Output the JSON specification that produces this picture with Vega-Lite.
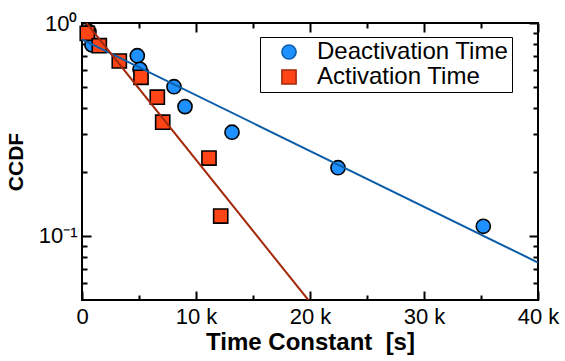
{
  "$schema": "https://vega.github.io/schema/vega-lite/v6.json",
  "width": 456,
  "height": 277,
  "autosize": "none",
  "padding": {"left": 82, "top": 23, "right": 27, "bottom": 61},
  "background": "white",
  "config": {
    "view": {"stroke": "black", "strokeWidth": 2},
    "font": "Liberation Sans",
    "axis": {
      "domain": false,
      "grid": false,
      "tickColor": "black",
      "tickWidth": 2,
      "labelColor": "black",
      "titleColor": "black",
      "labelFont": "Liberation Sans",
      "titleFont": "Liberation Sans"
    }
  },
  "datasets": {
    "pts": [
      {"series": "Deactivation Time", "t": 614, "ccdf": 0.91},
      {"series": "Deactivation Time", "t": 877, "ccdf": 0.789},
      {"series": "Deactivation Time", "t": 4851, "ccdf": 0.702},
      {"series": "Deactivation Time", "t": 5088, "ccdf": 0.606},
      {"series": "Deactivation Time", "t": 8070, "ccdf": 0.502},
      {"series": "Deactivation Time", "t": 9035, "ccdf": 0.405},
      {"series": "Deactivation Time", "t": 13158, "ccdf": 0.307},
      {"series": "Deactivation Time", "t": 22456, "ccdf": 0.209},
      {"series": "Deactivation Time", "t": 35202, "ccdf": 0.111},
      {"series": "Activation Time", "t": 465, "ccdf": 0.895},
      {"series": "Activation Time", "t": 1518, "ccdf": 0.782},
      {"series": "Activation Time", "t": 3272, "ccdf": 0.663},
      {"series": "Activation Time", "t": 5175, "ccdf": 0.556},
      {"series": "Activation Time", "t": 6605, "ccdf": 0.448},
      {"series": "Activation Time", "t": 7079, "ccdf": 0.342},
      {"series": "Activation Time", "t": 11140, "ccdf": 0.232},
      {"series": "Activation Time", "t": 12167, "ccdf": 0.124}
    ],
    "fit": [
      {"series": "Deactivation Time", "t": 0, "ccdf": 0.838},
      {"series": "Deactivation Time", "t": 40000, "ccdf": 0.075},
      {"series": "Activation Time", "t": 395, "ccdf": 1.0},
      {"series": "Activation Time", "t": 19851, "ccdf": 0.05}
    ]
  },
  "layer": [
    {
      "data": {"name": "pts"},
      "mark": {"type": "point", "filled": true, "stroke": "black", "strokeWidth": 1.6, "opacity": 1, "size": 200},
      "encoding": {
        "x": {
          "field": "t", "type": "quantitative",
          "scale": {"domain": [0, 40000], "nice": false, "zero": false},
          "axis": {
            "orient": "bottom", "values": [0, 10000, 20000, 30000, 40000],
            "labelExpr": "datum.value === 0 ? '0' : (datum.value / 1000) + ' k'",
            "ticks": false, "labelPadding": 6, "labelFontSize": 22, "labelFlush": false, "labelOverlap": false, "labelBound": false,
            "title": "Time Constant\u00a0\u00a0[s]", "titleFontSize": 24, "titleFontWeight": "bold", "titlePadding": 3
          }
        },
        "y": {
          "field": "ccdf", "type": "quantitative",
          "scale": {"type": "log", "domain": [0.05, 1], "nice": false},
          "axis": {
            "orient": "left", "values": [1, 0.1],
            "labelExpr": "datum.value == 1 ? '10⁰' : '10⁻¹'",
            "ticks": false, "labelPadding": 5, "labelFontSize": 22, "labelFlush": false, "labelOverlap": false, "labelBound": false,
            "title": "CCDF", "titleFontSize": 21, "titleFontWeight": "bold", "titlePadding": 12
          }
        },
        "fill": {
          "field": "series", "type": "nominal",
          "scale": {"domain": ["Deactivation Time", "Activation Time"], "range": ["#1e90ff", "#ff4516"]},
          "legend": {
            "orient": "none", "legendX": 178, "legendY": 14, "title": null,
            "strokeColor": "black", "fillColor": "white", "padding": 3,
            "symbolSize": 200, "symbolStrokeColor": "black", "symbolStrokeWidth": 1.6,
            "symbolOffset": 14, "labelFontSize": 24, "labelOffset": 16, "rowPadding": 1, "labelColor": "black", "labelLimit": 400
          }
        },
        "shape": {
          "field": "series", "type": "nominal",
          "scale": {"domain": ["Deactivation Time", "Activation Time"], "range": ["circle", "square"]},
          "legend": {
            "orient": "none", "legendX": 178, "legendY": 14, "title": null,
            "strokeColor": "black", "fillColor": "white", "padding": 3,
            "symbolSize": 200, "symbolStrokeColor": "black", "symbolStrokeWidth": 1.6,
            "symbolOffset": 14, "labelFontSize": 24, "labelOffset": 16, "rowPadding": 1, "labelColor": "black", "labelLimit": 400
          }
        }
      }
    },
    {
      "data": {"name": "fit"},
      "mark": {"type": "line", "strokeWidth": 2, "clip": true},
      "encoding": {
        "x": {
          "field": "t", "type": "quantitative",
          "axis": {
            "orient": "top", "values": [0, 5000, 10000, 15000, 20000, 25000, 30000, 35000, 40000],
            "labels": false, "title": null,
            "tickSize": {"condition": {"test": "datum.value % 10000 === 0", "value": -9}, "value": -5}
          }
        },
        "y": {
          "field": "ccdf", "type": "quantitative",
          "axis": {
            "orient": "right", "values": [1, 0.9, 0.8, 0.7, 0.6, 0.5, 0.4, 0.3, 0.2, 0.1, 0.09, 0.08, 0.07, 0.06],
            "labels": false, "title": null,
            "tickSize": {"condition": {"test": "datum.value == 1 || datum.value == 0.1", "value": -9}, "value": -5}
          }
        },
        "stroke": {
          "field": "series", "type": "nominal",
          "scale": {"domain": ["Deactivation Time", "Activation Time"], "range": ["#0c5da8", "#a3290c"]},
          "legend": null
        },
        "detail": {"field": "series"}
      }
    },
    {
      "data": {"name": "pts"},
      "mark": {"type": "point", "opacity": 0},
      "encoding": {
        "x": {
          "field": "t", "type": "quantitative",
          "axis": {
            "orient": "bottom", "values": [0, 5000, 10000, 15000, 20000, 25000, 30000, 35000, 40000],
            "labels": false, "title": null,
            "tickSize": {"condition": {"test": "datum.value % 10000 === 0", "value": -9}, "value": -5}
          }
        },
        "y": {
          "field": "ccdf", "type": "quantitative",
          "axis": {
            "orient": "left", "values": [1, 0.9, 0.8, 0.7, 0.6, 0.5, 0.4, 0.3, 0.2, 0.1, 0.09, 0.08, 0.07, 0.06],
            "labels": false, "title": null,
            "tickSize": {"condition": {"test": "datum.value == 1 || datum.value == 0.1", "value": -9}, "value": -5}
          }
        }
      }
    }
  ],
  "resolve": {"axis": {"x": "independent", "y": "independent"}}
}
